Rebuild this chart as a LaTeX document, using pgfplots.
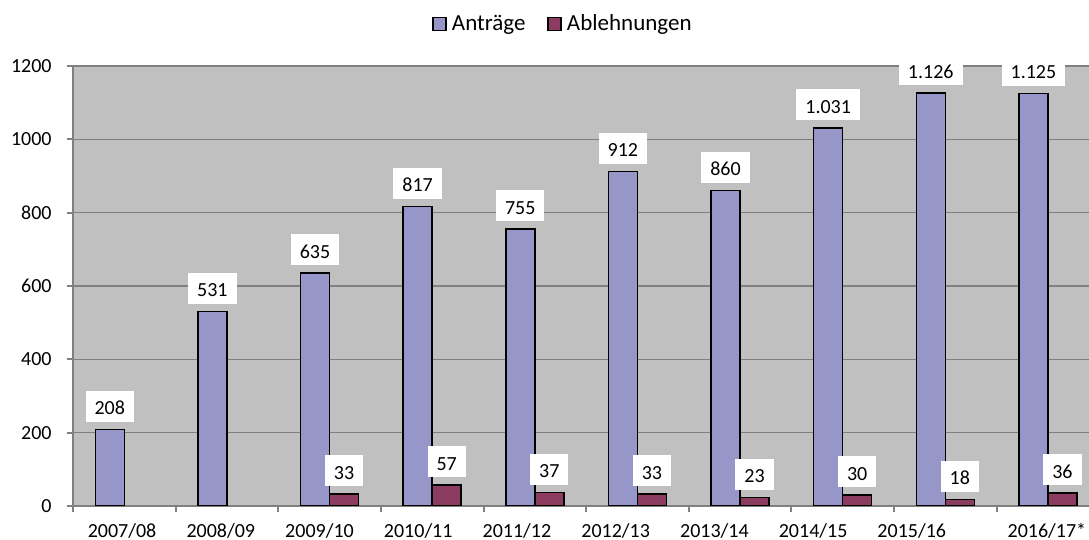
\documentclass[border=0pt]{standalone}
\usepackage{fontspec}
\setmainfont{Carlito}
\usepackage{pgfplots}
\pgfplotsset{compat=1.18}
\definecolor{antr}{RGB}{150,150,200}
\definecolor{abl}{RGB}{140,60,96}
\definecolor{bgc}{RGB}{192,192,192}
\definecolor{gridc}{RGB}{128,128,128}
\begin{document}
\begin{tikzpicture}
\useasboundingbox (0,0) rectangle (544.5pt,270pt);
\begin{axis}[
  at={(36.5pt,17pt)}, anchor=south west,
  scale only axis, width=508pt, height=220pt,
  ybar,
  xmin=-0.5, xmax=9.4, ymin=0, ymax=1200,
  axis x line*=bottom, axis y line*=left,
  axis line style={draw=gridc, line width=1pt, -},
  axis background/.style={fill=bgc},
  ymajorgrids, grid style={draw=gridc, line width=0.75pt},
  ytick={0,200,...,1200},
  tick align=outside, major tick length=3pt,
  y tick style={draw=gridc, line width=1pt},
  /pgf/number format/assume math mode=true,
  /pgf/number format/1000 sep={},
  yticklabel style={font=\fontsize{10}{12}\selectfont, inner xsep=0pt},
  yticklabel shift=7.5pt,
  xtick={-0.022,0.940,1.902,2.864,3.826,4.788,5.750,6.712,7.673,8.99},
  xticklabels={2007/08,2008/09,2009/10,2010/11,2011/12,2012/13,2013/14,2014/15,2015/16,2016/17*},
  x tick style={draw=none},
  xticklabel style={font=\fontsize{10}{12}\selectfont, anchor=north, inner ysep=0pt, text height=6.4pt, text depth=0pt},
  xticklabel shift=6pt,
  extra x ticks={-0.5,0.5,1.5,2.5,3.5,4.5,5.5,6.5,7.5,8.5},
  extra x tick labels={},
  extra x tick style={x tick style={draw=gridc, line width=1pt}},
  nodes near coords,
  every node near coord/.append style={font=\fontsize{10}{12}\selectfont, fill=white, anchor=south,
     inner xsep=4.5pt, inner ysep=0pt, text height=12pt, text depth=3.5pt, yshift=3.5pt,
     /pgf/number format/1000 sep={.}},
  legend columns=2,
  legend style={at={(0.4833,1.0955)}, anchor=center, draw=none, fill=none,
     font=\fontsize{11.5}{13}\selectfont,
     /tikz/every odd column/.append style={column sep=0.5pt},
     /tikz/every even column/.append style={column sep=9pt}},
  legend image code/.code={\draw[#1,draw=black,line width=0.75pt] (0pt,-3.25pt) rectangle (6.5pt,3.25pt);},
]
\addplot[fill=antr, draw=black, line width=0.75pt, bar width=0.283, bar shift=-0.1415]
  coordinates {(0,208) (1,531) (2,635) (3,817) (4,755) (5,912) (6,860) (7,1031) (8,1126) (9,1125)};
\addplot[fill=abl, draw=black, line width=0.75pt, bar width=0.283, bar shift=0.1415]
  coordinates {(2,33) (3,57) (4,37) (5,33) (6,23) (7,30) (8,18) (9,36)};
\legend{Anträge, Ablehnungen}
\end{axis}
\end{tikzpicture}
\end{document}
